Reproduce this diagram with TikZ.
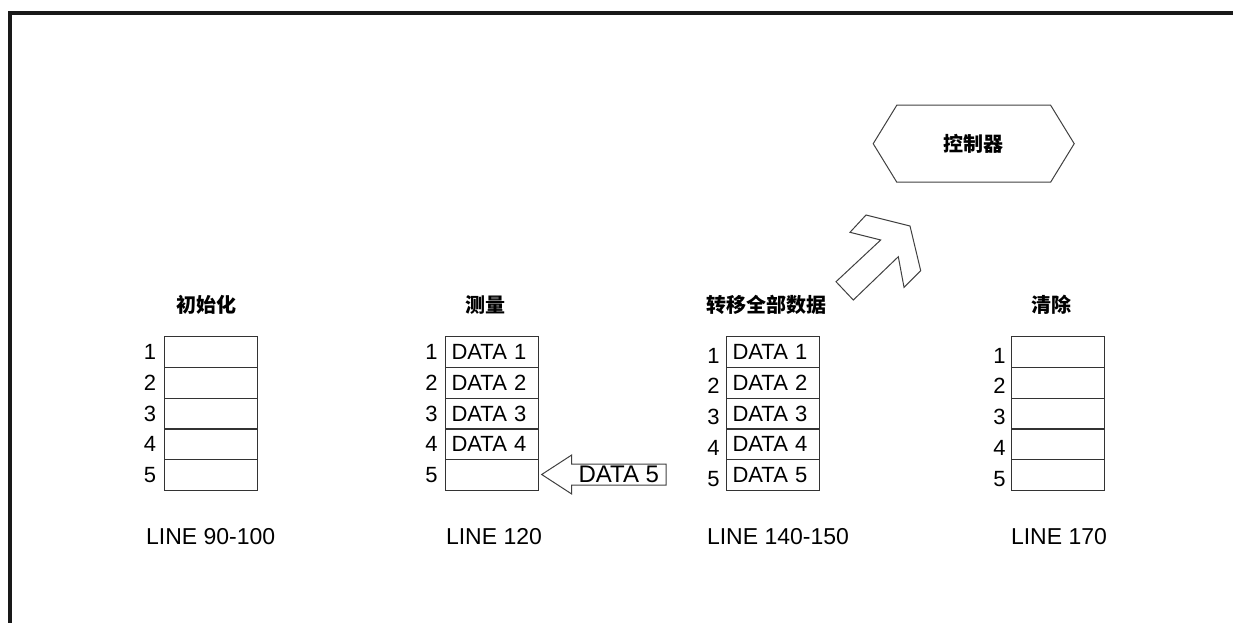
\documentclass[tikz,border=0pt]{standalone}
\usepackage{fontspec}
\setmainfont{Liberation Sans}
\newfontfamily\cjk{Noto Sans CJK SC}
\usepackage{tikz}
\usetikzlibrary{arrows.meta,positioning,calc,shapes.symbols}

\begin{document}
\begin{tikzpicture}[x=1pt,y=-1pt,node distance=0pt,>=Latex, every node/.style={font=\fontsize{22}{26}\selectfont,inner sep=0pt,outer sep=0pt}]
\tikzstyle{cell}=[draw=black!80,line width=1.1pt,text width=81pt,inner xsep=6pt,minimum height=30.8pt,align=left]
\tikzstyle{title}=[font=\cjk\bfseries\fontsize{20}{24}\selectfont]
\tikzstyle{linelbl}=[font=\fontsize{23}{27}\selectfont]
\tikzstyle{hollow}=[draw=black!75,line width=1pt,line join=miter]
\useasboundingbox (0,0) rectangle (1233,623);
\draw[line width=4pt,black!90] (10,623) -- (10,13) -- (1233,13);
% initialise
\node[cell] (a1) at (210.7,352) {};
\node[cell,below=of a1] (a2) {};
\node[cell,below=of a2] (a3) {};
\node[cell,below=of a3] (a4) {};
\node[cell,below=of a4] (a5) {};
\node[left=8pt of a1] (na1) {1};
\node[left=8pt of a2] (na2) {2};
\node[left=8pt of a3] (na3) {3};
\node[left=8pt of a4] (na4) {4};
\node[left=8pt of a5] (na5) {5};
\node[title,above=22pt of a1,xshift=-4pt] (ta) {初始化};
\node[linelbl,below=38pt of a5] (la) {LINE 90-100};
% measure
\node[cell] (b1) at (492,352) {DATA 1};
\node[cell,below=of b1] (b2) {DATA 2};
\node[cell,below=of b2] (b3) {DATA 3};
\node[cell,below=of b3] (b4) {DATA 4};
\node[cell,below=of b4] (b5) {};
\node[left=8pt of b1] (nb1) {1};
\node[left=8pt of b2] (nb2) {2};
\node[left=8pt of b3] (nb3) {3};
\node[left=8pt of b4] (nb4) {4};
\node[left=8pt of b5] (nb5) {5};
\node[title,above=22pt of b1,xshift=-7pt] (tb) {测量};
\node[linelbl,below=38pt of b5,xshift=2pt] (lb) {LINE 120};
\node[font=\fontsize{24}{28}\selectfont,minimum width=94.3pt,minimum height=21pt] (d5) at (618.85,474.5) {DATA 5};
\draw[hollow] (d5.north east) -- (d5.north west) -- ++(0,-9) -- ($(d5.west)+(-30,0)$) -- ($(d5.south west)+(0,9)$) -- (d5.south west) -- (d5.south east) -- cycle;
% transfer
\node[cell] (c1) at (773,352) {DATA 1};
\node[cell,below=of c1] (c2) {DATA 2};
\node[cell,below=of c2] (c3) {DATA 3};
\node[cell,below=of c3] (c4) {DATA 4};
\node[cell,below=of c4] (c5) {DATA 5};
\node[left=7pt of c1,yshift=-3.5pt] (nc1) {1};
\node[left=7pt of c2,yshift=-3.5pt] (nc2) {2};
\node[left=7pt of c3,yshift=-3.5pt] (nc3) {3};
\node[left=7pt of c4,yshift=-3.5pt] (nc4) {4};
\node[left=7pt of c5,yshift=-3.5pt] (nc5) {5};
\node[title,above=22pt of c1,xshift=-7pt] (tc) {转移全部数据};
\node[linelbl,below=38pt of c5,xshift=5pt] (lc) {LINE 140-150};
% clear
\node[cell] (d1) at (1058,352) {};
\node[cell,below=of d1] (d2) {};
\node[cell,below=of d2] (d3) {};
\node[cell,below=of d3] (d4) {};
\node[cell,below=of d4] (d5c) {};
\node[left=6pt of d1,yshift=-3.5pt] (nd1) {1};
\node[left=6pt of d2,yshift=-3.5pt] (nd2) {2};
\node[left=6pt of d3,yshift=-3.5pt] (nd3) {3};
\node[left=6pt of d4,yshift=-3.5pt] (nd4) {4};
\node[left=6pt of d5c,yshift=-3.5pt] (nd5) {5};
\node[title,above=22pt of d1,xshift=-7pt] (td) {清除};
\node[linelbl,below=38pt of d5c,xshift=1pt] (ld) {LINE 170};
% controller
\node[hollow,title,signal,signal to=west and east,signal pointer angle=117,minimum width=201pt,minimum height=77pt] (ctrl) at (973.7,143.7) {控制器};
\draw[hollow] (836,281.7) -- (853.3,300) -- (898.3,256.7) -- (904,287.3) -- (920.7,270.7) -- (910,226) -- (866,215) -- (850,232.3) -- (880.7,240) -- cycle;
\end{tikzpicture}
\end{document}
